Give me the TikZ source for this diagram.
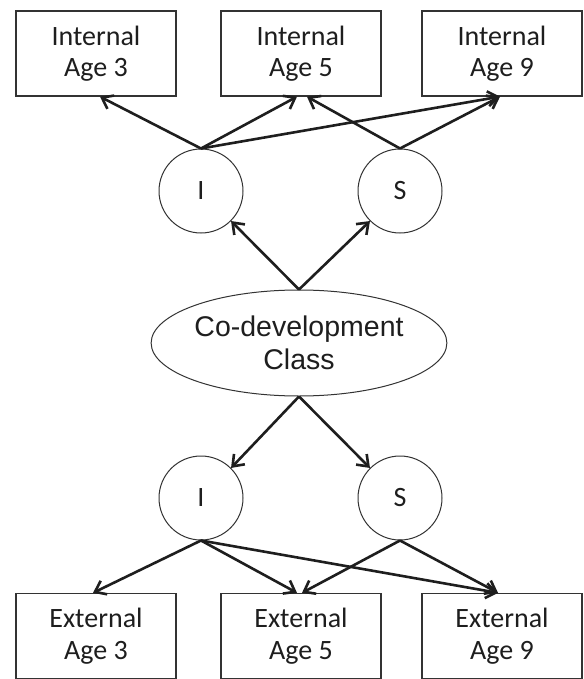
\documentclass[tikz,border=0pt]{standalone}
\usepackage{fontspec}
\setmainfont{Carlito}
\newfontfamily\arialf{Liberation Sans}
\usetikzlibrary{arrows.meta,shapes.geometric}
\definecolor{ink}{HTML}{1E1E1E}
\definecolor{edge}{HTML}{333333}
\tikzset{
  boxnode/.style={draw=edge, line width=1.3pt, minimum width=160pt, minimum height=85pt,
    inner sep=0pt, align=center, text=ink, font=\fontsize{28}{31.5}\selectfont},
  latent/.style={circle, draw=edge, line width=1pt, minimum size=84pt, inner sep=0pt,
    text=ink, font=\fontsize{28}{31}\selectfont},
  classnode/.style={ellipse, draw=edge, line width=1pt, minimum width=248pt, minimum height=106pt,
    inner sep=0pt, align=center, text=ink, font=\arialf\fontsize{28.5}{33}\selectfont},
  path/.style={draw=ink, line width=2.6pt, -{Straight Barb[length=10pt,width=15pt]}},
}
\begin{document}
\begin{tikzpicture}[x=1pt,y=-1pt]
\useasboundingbox (0,0) rectangle (583,679);
% top boxes
\node[boxnode] (t1) at (96,53.5) {Internal\\Age 3};
\node[boxnode] (t2) at (301,53.5) {Internal\\Age 5};
\node[boxnode] (t3) at (502,53.5) {Internal\\Age 9};
% latent circles
\node[latent] (i1) at (201,191) {I};
\node[latent] (s1) at (400,191) {S};
\node[classnode] (c) at (299,343) {Co-development\\Class};
\node[latent] (i2) at (201,498) {I};
\node[latent] (s2) at (400,498) {S};
% bottom boxes
\node[boxnode] (b1) at (96,636) {External\\Age 3};
\node[boxnode] (b2) at (301,636) {External\\Age 5};
\node[boxnode] (b3) at (502,636) {External\\Age 9};
% arrows up
\draw[path] (i1.north) -- ([xshift=4pt]t1.south);
\draw[path] (i1.north) -- ([xshift=-4pt]t2.south);
\draw[path] (i1.north) -- ([xshift=-2pt]t3.south);
\draw[path] (s1.north) -- ([xshift=6pt]t2.south);
\draw[path] (s1.north) -- ([xshift=-2pt]t3.south);
\draw[path] (c.north) -- (i1.-45);
\draw[path] (c.north) -- (s1.-135);
% arrows down
\draw[path] (c.south) -- (i2.45);
\draw[path] (c.south) -- (s2.135);
\draw[path] (i2.south) -- ([xshift=-3pt]b1.north);
\draw[path] (i2.south) -- ([xshift=-4pt]b2.north);
\draw[path] (i2.south) -- ([xshift=-4pt]b3.north);
\draw[path] (s2.south) -- ([xshift=1pt]b2.north);
\draw[path] (s2.south) -- ([xshift=-4pt]b3.north);
\end{tikzpicture}
\end{document}
